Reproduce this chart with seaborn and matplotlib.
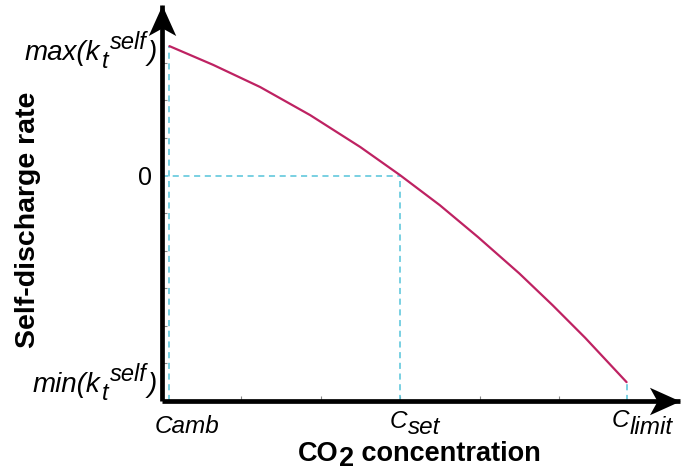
import numpy as np
import pandas as pd
import seaborn as sns
import matplotlib
matplotlib.use("Agg")
import matplotlib.pyplot as plt
from matplotlib.path import Path

# ---- data (arbitrary units) ----
co2 = [0.10, 0.65, 1.24, 1.87, 2.50, 3.00, 3.50, 3.98, 4.50, 4.92, 5.33, 5.85]
rate = [3.45, 2.95, 2.36, 1.61, 0.76, 0.01, -0.79, -1.64, -2.61, -3.46, -4.33, -5.51]
c_amb, c_set, c_limit = 0.10, 3.00, 5.85
x_minor = [1, 2, 3, 4, 5]
y_minor = [-5, -4, -3, -2, -1, 1, 2, 3, 4]

sns.set_style("white")
plt.rcParams["font.family"] = ["Liberation Sans", "DejaVu Sans"]
plt.rcParams["text.color"] = "black"
plt.rcParams["ytick.labelcolor"] = "black"

fig = plt.figure(figsize=(6.81, 4.73), dpi=100)
W, H = 681, 473
x0, y0, x1, y1 = 161.5, 400.5, 680, 5
ax = fig.add_axes([x0 / W, (H - y0) / H, (x1 - x0) / W, (y0 - y1) / H])
PT = 0.72  # points per pixel at dpi 100

df = pd.DataFrame({"co2": co2, "rate": rate})
sns.lineplot(data=df, x="co2", y="rate", ax=ax, color="#BE2262", lw=1.6)

ax.set_xlim(0, (x1 - x0) / 79.5)
ax.set_ylim(-6, (y0 - y1) / 37.5 - 6)
ax.set_xlabel("")
ax.set_ylabel("")

dash_kw = dict(color="#55C3DA", lw=1.1, ls=(0, (4, 3)), zorder=1)
ax.plot([c_amb, c_amb], [-6, rate[0]], **dash_kw)
ax.plot([0, c_set], [0, 0], **dash_kw)
ax.plot([c_set, c_set], [-6, 0], **dash_kw)
ax.plot([c_limit, c_limit], [-6, rate[-1]], **dash_kw)

for s in ["top", "right"]:
    ax.spines[s].set_visible(False)
for s in ["left", "bottom"]:
    ax.spines[s].set_linewidth(3.4)
    ax.spines[s].set_color("black")
    ax.spines[s].set_capstyle("butt")

# minor ticks only
ax.set_xticks([])
ax.set_yticks([0])
ax.set_yticklabels(["0"], fontsize=18, color="black")
ax.tick_params(axis="y", which="major", length=0, pad=7)
ax.set_yticks(y_minor, minor=True)
ax.set_xticks(x_minor, minor=True)
ax.tick_params(which="minor", direction="in", length=3.5, width=0.8, color="#888888")
ax.tick_params(axis="x", which="minor", bottom=True)
ax.tick_params(axis="y", which="minor", left=True)

FS_MAIN = 20
FS_SUB = 17
FS_T = 17.5


def y_label(pieces, yval, base_dy_px):
    """pieces from right to left: (text, vertical offset px, fontsize)"""
    xa = (157 - x0) / (x1 - x0)
    txt, dy, fs = pieces[0]
    first = ax.annotate(txt, xy=(xa, yval), xycoords=("axes fraction", "data"),
                        xytext=(0, -base_dy_px * PT), textcoords="offset points",
                        ha="right", va="baseline", fontsize=fs, style="italic",
                        annotation_clip=False)
    prev = first
    for txt, dy, fs in pieces[1:]:
        prev = ax.annotate(txt, xy=(0, 0), xycoords=(prev, first),
                           xytext=(-1.0, dy * PT), textcoords="offset points",
                           ha="right", va="bottom", fontsize=fs, style="italic",
                           annotation_clip=False)


y_label([(")", 0, FS_MAIN), ("self", 12, FS_SUB), ("t", -7, FS_SUB), ("max(k", 0, FS_MAIN)],
        rate[0], 14)
y_label([(")", 0, FS_MAIN), ("self", 12, FS_SUB), ("t", -7, FS_SUB), ("min(k", 0, FS_MAIN)],
        rate[-1], 10)


def x_label(main, sub, xval, dx_px, base_px, low_px):
    ya = (y0 - base_px) / (y0 - y1)
    t = ax.annotate(main, xy=(xval, ya), xycoords=("data", "axes fraction"),
                    xytext=(dx_px * PT, 0), textcoords="offset points",
                    ha="left", va="baseline", fontsize=FS_T, style="italic",
                    annotation_clip=False)
    if sub:
        ax.annotate(sub, xy=(1, 0), xycoords=(t, t), xytext=(0.5, -low_px * PT),
                    textcoords="offset points", ha="left", va="bottom",
                    fontsize=FS_T, style="italic", annotation_clip=False)


x_label("Camb", None, c_amb, -15, 433, 0)
x_label("C", "set", c_set, -10, 428, 6)
x_label("C", "limit", c_limit, -15, 427, 7)

# axis titles
fig.text(28 / W, (H - 220) / H, "Self-discharge rate", rotation=90, ha="center",
         va="center", fontsize=20.5, fontweight="bold")
FS_L = 19.5
t_co = ax.annotate("CO", xy=(298 / W, (H - 461) / H), xycoords="figure fraction",
                   ha="left", va="baseline", fontsize=FS_L, fontweight="bold",
                   annotation_clip=False)
t_2 = ax.annotate("2", xy=(1, 0), xycoords=(t_co, t_co), xytext=(0, -4.5 * PT),
                  textcoords="offset points", ha="left", va="bottom",
                  fontsize=FS_L, fontweight="bold", annotation_clip=False)
ax.annotate(" concentration", xy=(1, 0), xycoords=(t_2, t_co), xytext=(0, 0),
            textcoords="offset points", ha="left", va="bottom",
            fontsize=FS_L, fontweight="bold", annotation_clip=False)

# arrow heads
up = Path([(0, 0), (-0.45, -1), (0, -0.75), (0.45, -1), (0, 0)],
          [Path.MOVETO, Path.LINETO, Path.LINETO, Path.LINETO, Path.CLOSEPOLY])
right = Path([(0, 0), (-1, 0.45), (-0.75, 0), (-1, -0.45), (0, 0)],
             [Path.MOVETO, Path.LINETO, Path.LINETO, Path.LINETO, Path.CLOSEPOLY])
ax.plot([0], [1], marker=up, ms=44, color="black", mec="none", transform=ax.transAxes, clip_on=False)
ax.plot([1], [0], marker=right, ms=44, color="black", mec="none", transform=ax.transAxes, clip_on=False)

fig.savefig("out.png", dpi=100)
